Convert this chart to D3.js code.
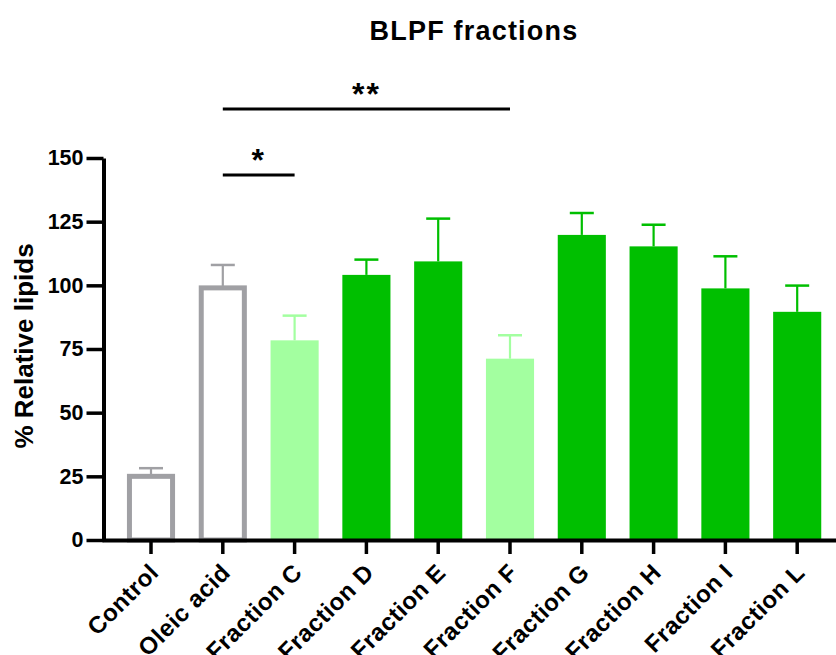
<!DOCTYPE html>
<html>
<head>
<meta charset="utf-8">
<script src="https://cdn.jsdelivr.net/npm/d3@7"></script>
<style>
  html, body { margin: 0; padding: 0; background: #ffffff; }
  svg { display: block; }
  text { font-family: "Liberation Sans", Arial, Helvetica, sans-serif; font-weight: bold; fill: #000; }
</style>
</head>
<body>
<script>
// ---- data ----
const categories = ["Control", "Oleic acid", "Fraction C", "Fraction D", "Fraction E",
                    "Fraction F", "Fraction G", "Fraction H", "Fraction I", "Fraction L"];
const means  = [25, 99, 78.4, 104.1, 109.4, 71.2, 119.8, 115.3, 98.8, 89.6];
const errors = [3.2, 9, 9.7, 6.0, 16.8, 9.2, 8.6, 8.5, 12.6, 10.3];
const barStyle = ["outline", "outline", "light", "dark", "dark", "light", "dark", "dark", "dark", "dark"];
const yTicks = [0, 25, 50, 75, 100, 125, 150];
const comparisons = [
  { from: "Oleic acid", to: "Fraction C", label: "*",  level: 143.3 },
  { from: "Oleic acid", to: "Fraction F", label: "**", level: 169.2 }
];
const titleText = "BLPF fractions";
const yLabelText = "% Relative lipids";

// ---- layout ----
const W = 836, H = 655;
const colors = { outline: "#A0A0A4", light: "#A3FFA0", dark: "#00BF00" };

const svg = d3.select("body").append("svg").attr("width", W).attr("height", H);
svg.append("rect").attr("width", W).attr("height", H).attr("fill", "#fff");

const y = d3.scaleLinear().domain([0, 150]).range([540, 158]);
const x = d3.scaleBand().domain(categories).range([102, 846.2]).paddingInner(0).paddingOuter(0.1825);
const cx = c => x(c) + x.bandwidth() / 2;
const barW = x.step() * 0.67;
const capW = 24;

// bars
const g = svg.append("g");
categories.forEach((c, i) => {
  const st = barStyle[i];
  const v = means[i];
  const col = colors[st];
  // error bar
  g.append("line")
    .attr("x1", cx(c)).attr("x2", cx(c))
    .attr("y1", y(v)).attr("y2", y(v + errors[i]))
    .attr("stroke", col).attr("stroke-width", 2.2);
  g.append("line")
    .attr("x1", cx(c) - capW / 2).attr("x2", cx(c) + capW / 2)
    .attr("y1", y(v + errors[i])).attr("y2", y(v + errors[i]))
    .attr("stroke", col).attr("stroke-width", 2.5);
  if (st === "outline") {
    const sw = 5;
    g.append("rect")
      .attr("x", cx(c) - barW / 2 + sw / 2)
      .attr("y", y(v))
      .attr("width", barW - sw)
      .attr("height", y(0) - y(v))
      .attr("fill", "#fff")
      .attr("stroke", col).attr("stroke-width", sw);
  } else {
    g.append("rect")
      .attr("x", cx(c) - barW / 2)
      .attr("y", y(v))
      .attr("width", barW)
      .attr("height", y(0) - y(v))
      .attr("fill", col);
  }
});

// y axis
const yAxis = svg.append("g")
  .attr("transform", "translate(103.5,0)")
  .call(d3.axisLeft(y).tickValues(yTicks).tickSize(17).tickSizeOuter(0).tickPadding(3));
yAxis.select(".domain").attr("stroke", "#000").attr("stroke-width", 4);
yAxis.selectAll(".tick line").attr("stroke", "#000").attr("stroke-width", 3.5);
yAxis.selectAll(".tick text")
  .style("font-size", "21.5px").style("font-family", '"Liberation Sans", Arial, sans-serif')
  .style("font-weight", "bold").attr("fill", "#000");

// x axis
const xAxis = svg.append("g")
  .attr("transform", "translate(0,540)")
  .call(d3.axisBottom(x).tickSize(14).tickSizeOuter(0).tickFormat(""));
xAxis.select(".domain").attr("stroke", "#000").attr("stroke-width", 4);
xAxis.selectAll(".tick line").attr("stroke", "#000").attr("stroke-width", 3.5);

// x labels
svg.append("g").selectAll("text").data(categories).join("text")
  .attr("transform", c => `translate(${cx(c) + 9},${574}) rotate(-45)`)
  .attr("text-anchor", "end")
  .style("font-size", "24px")
  .style("letter-spacing", "0.5px")
  .text(c => c);

// significance brackets
comparisons.forEach(cmp => {
  const yy = y(cmp.level);
  svg.append("line")
    .attr("x1", cx(cmp.from)).attr("x2", cx(cmp.to))
    .attr("y1", yy).attr("y2", yy)
    .attr("stroke", "#000").attr("stroke-width", 3);
  svg.append("text")
    .attr("x", (cx(cmp.from) + cx(cmp.to)) / 2)
    .attr("y", yy - 4)
    .attr("text-anchor", "middle")
    .style("font-size", "32px")
    .style("letter-spacing", "2px")
    .text(cmp.label);
});

// title
svg.append("text")
  .attr("x", 474).attr("y", 40)
  .attr("text-anchor", "middle")
  .style("font-size", "27px")
  .style("letter-spacing", "1.2px")
  .text(titleText);

// y label
svg.append("text")
  .attr("transform", "translate(33,346) rotate(-90)")
  .attr("text-anchor", "middle")
  .style("font-size", "26px")
  .text(yLabelText);
</script>
</body>
</html>
